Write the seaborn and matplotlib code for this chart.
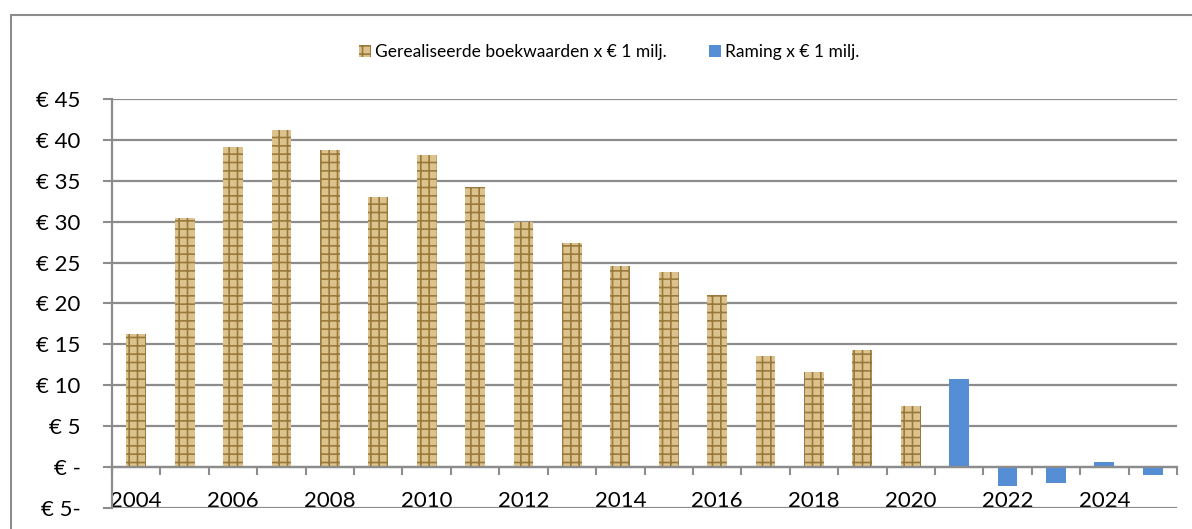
import numpy as np
import pandas as pd
import matplotlib
matplotlib.use("Agg")
import matplotlib.pyplot as plt
import seaborn as sns
from matplotlib.lines import Line2D

# values (x EUR 1 mln)
years = list(range(2004, 2026))
realised = [16.3, 30.5, 39.1, 41.2, 38.8, 33.0, 38.2, 34.3, 30.0, 27.4, 24.6, 23.8,
            21.0, 13.6, 11.6, 14.3, 7.5]
forecast = [10.8, -2.3, -1.9, 0.65, -1.0]
series_names = ["Gerealiseerde boekwaarden x € 1 milj.", "Raming x € 1 milj."]
y_ticks = [-5, 0, 5, 10, 15, 20, 25, 30, 35, 40, 45]
y_labels = ["€ 5-", "€ -", "€ 5", "€ 10", "€ 15", "€ 20", "€ 25", "€ 30", "€ 35", "€ 40", "€ 45"]

df = pd.DataFrame({
    "year": [str(y) for y in years],
    "value": realised + forecast,
    "series": [series_names[0]] * len(realised) + [series_names[1]] * len(forecast),
})

sns.set_theme(style="white")
plt.rcParams["font.family"] = ["Lato", "DejaVu Sans"]
plt.rcParams["hatch.linewidth"] = 1.2

grey = "#8c8c8c"
tan = "#dcc28c"
blue = "#558ed5"

fig = plt.figure(figsize=(11.92, 5.29), dpi=100)
ax = fig.add_axes([112 / 1192, 1 - 508 / 529, (1177 - 112) / 1192, (508 - 99) / 529])

sns.barplot(data=df, x="year", y="value", hue="series", dodge=False, width=0.41,
            palette=[tan, blue], saturation=1, order=[str(y) for y in years],
            ax=ax, legend=False)

# woven texture for realised values
for bar in ax.containers[0]:
    bar.set_hatch("++")
    bar.set_edgecolor("#9a7a3c")
    bar.set_linewidth(0)
for bar in ax.containers[1]:
    bar.set_linewidth(0)

ax.set_ylim(-5, 45)
ax.set_xlim(-0.5, len(years) - 0.5)
ax.set_yticks(y_ticks)
ax.set_yticklabels(y_labels, fontsize=16, color="black")
ax.yaxis.grid(True, color=grey, linewidth=1.6)
ax.set_axisbelow(True)
ax.tick_params(axis="y", length=6.5, width=1.5, color=grey, pad=16, left=True)

# x axis sits at zero
ax.spines["bottom"].set_position(("data", 0))
ax.spines["bottom"].set_color(grey)
ax.spines["bottom"].set_linewidth(1.6)
ax.spines["left"].set_color(grey)
ax.spines["left"].set_linewidth(1.6)
ax.spines["top"].set_visible(False)
ax.spines["right"].set_visible(False)

ax.set_xticks(np.arange(-0.5, len(years), 1.0))
ax.set_xticklabels([])
ax.set_xticks(np.arange(0, len(years), 2), minor=True)
ax.set_xticklabels([str(y) for y in years[::2]], minor=True, fontsize=16, color="black")
ax.tick_params(axis="x", which="major", length=5.5, width=1.5, color=grey, bottom=True)
ax.tick_params(axis="x", which="minor", length=0, pad=17, bottom=True)
ax.set_xlabel("")
ax.set_ylabel("")

handles = [ax.containers[0][0], ax.containers[1][0]]
fig.legend(handles, series_names, loc="center", bbox_to_anchor=(0.511, 0.902), ncol=2,
           frameon=False, fontsize=12.5, handlelength=0.7, handleheight=0.7,
           handletextpad=0.25, columnspacing=2.4, labelcolor="black")

# outer chart frame
fig.add_artist(Line2D([11 / 1192, 1.0], [1 - 15 / 529, 1 - 15 / 529], color=grey, lw=1.5))
fig.add_artist(Line2D([11 / 1192, 11 / 1192], [0.0, 1 - 15 / 529], color=grey, lw=1.5))

fig.savefig("out.png", dpi=100)
